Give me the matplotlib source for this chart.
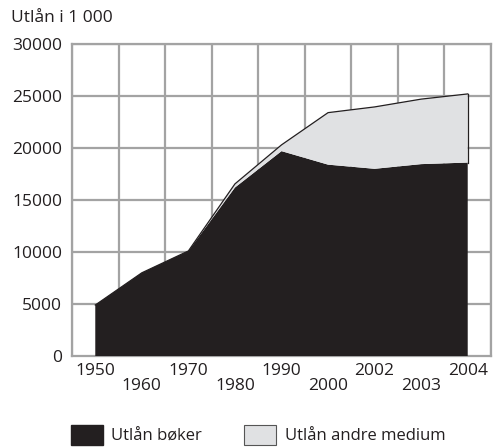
import numpy as np
import matplotlib.pyplot as plt
from matplotlib.patches import Patch

# ---------------- DATA -----------------
years = ["1950", "1960", "1970", "1980", "1990", "2000", "2002", "2003", "2004"]
books = [4900, 8000, 10100, 16200, 19700, 18400, 18000, 18450, 18600]
total = [4900, 8000, 10100, 16550, 20300, 23400, 23950, 24700, 25200]
other = [t - b for t, b in zip(total, books)]

BLACK = "#231f20"
LIGHT = "#e0e1e3"
GRID = "#a3a3a3"
FS = 12.5

plt.rcParams['font.family'] = ['Open Sans', 'DejaVu Sans']

fig = plt.figure(figsize=(4.94, 4.47), dpi=100)
ax = fig.add_axes([72 / 494, 1 - 356 / 447, 419 / 494, 312 / 447])

x = np.arange(len(years))
ax.stackplot(x, books, other, colors=[BLACK, LIGHT], linewidth=0, zorder=3)
ax.plot(x, total, color=BLACK, lw=0.9, zorder=4)
ax.plot([x[-1], x[-1]], [books[-1], total[-1]], color=BLACK, lw=0.9, zorder=4)

# grid between categories
for b in np.arange(-0.5, len(years), 1.0):
    ax.axvline(b, color=GRID, lw=1.6, zorder=1)
for yv in range(5000, 30001, 5000):
    ax.axhline(yv, color=GRID, lw=1.6, zorder=1)

ax.set_xlim(-0.5, len(years) - 0.5)
ax.set_ylim(0, 30000)
for s in ax.spines.values():
    s.set_color(GRID)
    s.set_linewidth(1.6)

ax.set_yticks(range(0, 30001, 5000))
ax.tick_params(axis='y', length=0, pad=7, labelsize=FS, colors="#231f20")

# staggered year labels
ax.set_xticks(x[::2])
ax.set_xticklabels(years[::2])
ax.set_xticks(x[1::2], minor=True)
ax.set_xticklabels(years[1::2], minor=True)
ax.tick_params(axis='x', which='major', length=0, pad=5, labelsize=FS, colors="#231f20")
ax.tick_params(axis='x', which='minor', length=0, pad=16, labelsize=FS, colors="#231f20")

fig.text(11 / 494, 1 - 18 / 447, "Utlån i 1 000", fontsize=FS, color="#231f20",
         va='center', ha='left')

handles = [Patch(facecolor=BLACK, edgecolor=BLACK, label="Utlån bøker"),
           Patch(facecolor=LIGHT, edgecolor="#555555", lw=0.8, label="Utlån andre medium")]
fig.legend(handles=handles, loc='center', bbox_to_anchor=(0.522, 1 - 435 / 447), ncol=2,
           frameon=False, fontsize=12, handlelength=1.95, handleheight=1.5,
           columnspacing=2.5, handletextpad=0.5, labelcolor="#231f20",
           borderaxespad=0, borderpad=0)

fig.savefig("out.png", dpi=100)
